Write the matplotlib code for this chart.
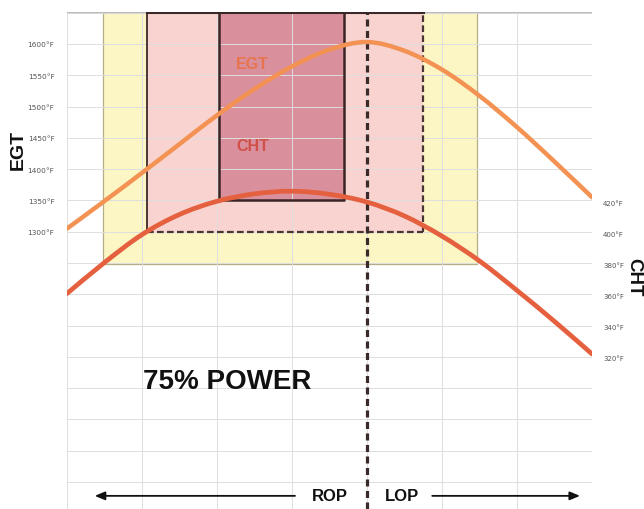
import matplotlib
matplotlib.use("Agg")
import matplotlib.pyplot as plt
from matplotlib.patches import Rectangle, PathPatch
from matplotlib.path import Path
import numpy as np

# ---- data ----
mixture = [0, 0.5, 1, 1.5, 2, 2.5, 3, 3.5, 4, 4.5, 5, 5.5, 6, 6.5, 7]
egt = [1305, 1349, 1394, 1440, 1486, 1528, 1564, 1591, 1603, 1589, 1559, 1517, 1467, 1412, 1355]
cht = [361, 381, 399, 412, 420.5, 425.3, 427, 425, 420, 411, 398, 382, 363, 343, 322]

egt_ticks = [1300, 1350, 1400, 1450, 1500, 1550, 1600]
egt_labels = ["1300°F", "1350°F", "1400°F", "1450°F", "1500°F", "1550°F", "1600°F"]
cht_ticks = [320, 340, 360, 380, 400, 420]
cht_labels = ["320°F", "340°F", "360°F", "380°F", "400°F", "420°F"]

# zones: (x_left, x_right, egt_bottom)
zone_yellow = (0.48, 5.47, 1249)
zone_pink = (1.07, 4.75, 1300)
zone_dark = (2.02, 3.69, 1351)
peak_x = 4.0

EGT_LIM = (857, 1651)
CHT_LIM = (222, 542.6)


def smooth_path(xs, ys):
    """Catmull-Rom curve through the data points, as a cubic Bezier path."""
    pts = np.column_stack([xs, ys]).astype(float)
    verts = [pts[0]]
    codes = [Path.MOVETO]
    n = len(pts)
    for i in range(n - 1):
        p0 = pts[i - 1] if i > 0 else pts[i]
        p1 = pts[i]
        p2 = pts[i + 1]
        p3 = pts[i + 2] if i + 2 < n else pts[i + 1]
        c1 = p1 + (p2 - p0) / 6.0
        c2 = p2 - (p3 - p1) / 6.0
        verts += [c1, c2, p2]
        codes += [Path.CURVE4] * 3
    return Path(verts, codes)


fig = plt.figure(figsize=(6.44, 5.10), dpi=100)
ax = fig.add_axes([67/644, 0, (592-67)/644, 1 - 13/510])
ax.set_xlim(0, 7)
ax.set_ylim(*EGT_LIM)

for s in ax.spines.values():
    s.set_visible(False)

# grid
for gx in range(0, 8):
    ax.axvline(gx, color="#dedede", lw=0.7, zorder=2)
for gy in np.arange(900, 1651, 50):
    ax.axhline(gy, color="#dedede", lw=0.7, zorder=2)
ax.axhline(EGT_LIM[1], color="#bbbbbb", lw=1.0, zorder=2)

top = EGT_LIM[1]
# yellow zone
x0, x1, yb = zone_yellow
ax.add_patch(Rectangle((x0, yb), x1 - x0, top - yb, facecolor="#fcf6c4",
                       edgecolor="#b5ad86", lw=0.9, zorder=1))
# pink zone
x0, x1, yb = zone_pink
ax.add_patch(Rectangle((x0, yb), x1 - x0, top - yb, facecolor="#f8d3d0",
                       edgecolor="none", zorder=1.2))
ax.plot([x0, x0], [yb, top], color="#4a3535", lw=1.4, zorder=2.6)
ax.plot([x1, x1], [yb, top], color="#4a3535", lw=1.6, ls=(0, (3, 1.5)), zorder=2.6)
ax.plot([x0, x1], [yb, yb], color="#4a3535", lw=1.6, ls=(0, (3, 1.5)), zorder=2.6)
ax.plot([x0, x1], [top, top], color="#3a2828", lw=2.2, zorder=2.6)
# dark zone
x0, x1, yb = zone_dark
ax.add_patch(Rectangle((x0, yb), x1 - x0, top - yb, facecolor="#d98f9c",
                       edgecolor="none", zorder=1.4))
ax.plot([x0, x0, x1, x1], [top, yb, yb, top], color="#3a2525", lw=1.8, zorder=2.7)

# dashed peak line
ax.axvline(peak_x, color="#3a2a2a", lw=2.3, ls=(0, (2.2, 1.4)), zorder=2.8)

# EGT curve
ax.add_patch(PathPatch(smooth_path(mixture, egt), facecolor="none",
                       edgecolor="#f39252", lw=3.2, capstyle="round", zorder=4))

ax.set_xticks([])
ax.set_yticks(egt_ticks)
ax.set_yticklabels(egt_labels, fontsize=5.3, color="#555555")
ax.tick_params(axis="y", length=0, pad=9)

ax2 = ax.twinx()
ax2.set_ylim(*CHT_LIM)
for s in ax2.spines.values():
    s.set_visible(False)
ax2.add_patch(PathPatch(smooth_path(mixture, cht), facecolor="none",
                        edgecolor="#e5603e", lw=3.4, capstyle="round", zorder=4))
ax2.set_yticks(cht_ticks)
ax2.set_yticklabels(cht_labels, fontsize=5.0, color="#555555")
ax2.tick_params(axis="y", length=0, pad=8)

# labels in plot
ax.text(2.47, 1568, "EGT", color="#e8734c", fontsize=11.5, fontweight="bold",
        ha="center", va="center", family="Liberation Sans", zorder=5)
ax.text(2.47, 1437, "CHT", color="#d14f47", fontsize=11.5, fontweight="bold",
        ha="center", va="center", family="Liberation Sans", zorder=5)
ax.text(2.13, 1062, "75% POWER", color="#111111", fontsize=20, fontweight="bold",
        ha="center", va="center", family="Liberation Sans", zorder=5)

# ROP / LOP
yb_arrow = 878
ax.text(3.5, yb_arrow, "ROP", fontsize=12, fontweight="bold", ha="center",
        va="center", family="Liberation Sans", color="#111111")
ax.text(4.47, yb_arrow, "LOP", fontsize=12, fontweight="bold", ha="center",
        va="center", family="Liberation Sans", color="#111111")
ax.annotate("", xy=(0.37, yb_arrow), xytext=(3.04, yb_arrow),
            arrowprops=dict(arrowstyle="-|>,head_length=0.6,head_width=0.25",
                            color="#111111", lw=1.3, shrinkA=0, shrinkB=0))
ax.annotate("", xy=(6.84, yb_arrow), xytext=(4.87, yb_arrow),
            arrowprops=dict(arrowstyle="-|>,head_length=0.6,head_width=0.25",
                            color="#111111", lw=1.3, shrinkA=0, shrinkB=0))

# axis titles
fig.text(18/644, 1 - 150/510, "EGT", rotation=90, fontsize=14, fontweight="bold",
         ha="center", va="center", family="Liberation Sans", color="#111111")
fig.text(634/644, 1 - 277/510, "CHT", rotation=270, fontsize=13.5, fontweight="bold",
         ha="center", va="center", family="Liberation Sans", color="#111111")

fig.savefig("out.png", dpi=100)
